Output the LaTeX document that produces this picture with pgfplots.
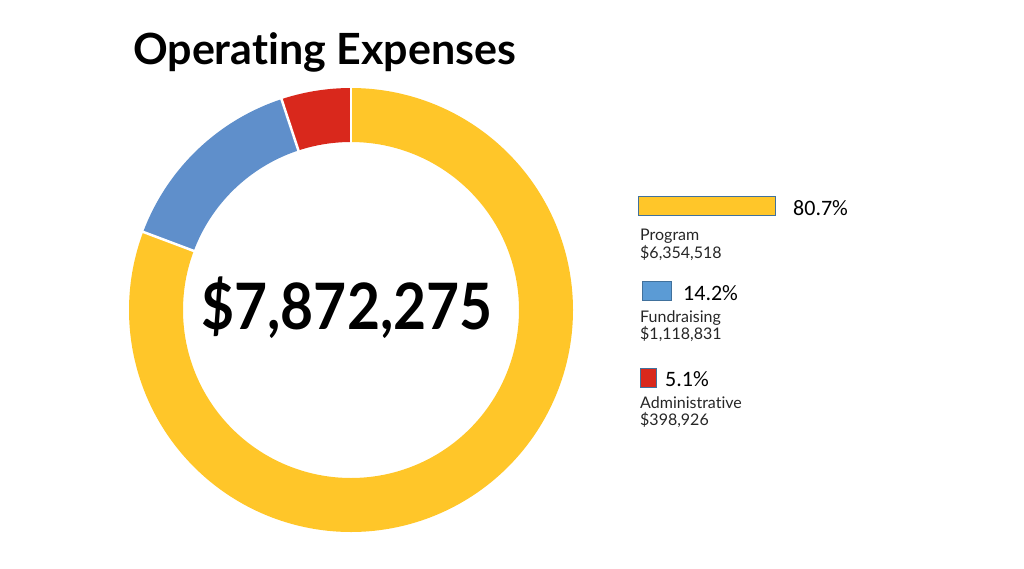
\documentclass[border=0pt]{standalone}
\usepackage{pgfplots}
\pgfplotsset{compat=1.18}
\usepackage{pgfplotstable}
\usepackage{fontspec}
\setmainfont{Lato}[Ligatures=NoCommon]
\newfontfamily\calfont{Carlito}
\definecolor{cyel}{HTML}{FFC629}
\definecolor{cblu}{HTML}{5F8FCB}
\definecolor{cred}{HTML}{D9281C}
\definecolor{lblu}{HTML}{5B9BD5}
\definecolor{edge}{HTML}{41719C}
\definecolor{labtxt}{HTML}{262626}
% operating expenses, thousands of dollars
\pgfplotstableread{
label value
Program 6354.518
Fundraising 1118.831
Administrative 398.926
}\expdata
\pgfplotstablegetelem{0}{value}\of\expdata\let\vA\pgfplotsretval%
\pgfplotstablegetelem{1}{value}\of\expdata\let\vB\pgfplotsretval%
\pgfplotstablegetelem{2}{value}\of\expdata\let\vC\pgfplotsretval%
\pgfmathsetmacro\tot{\vA+\vB+\vC}%
\pgfmathsetmacro\aB{90-360*(\vA/\tot)}%
\pgfmathsetmacro\aC{\aB-360*(\vB/\tot)}%
\pgfmathsetmacro\aD{\aC-360*(\vC/\tot)}%
\begin{document}
\begin{tikzpicture}
\begin{axis}[
  scale only axis, width=1024pt, height=568pt,
  xmin=0, xmax=1024, ymin=0, ymax=568, y dir=reverse,
  hide axis, clip=false]
\addplot[draw=none] coordinates {(0,0) (1024,568)};
% donut ring
\addplot[cyel, line width=54pt, domain=\aB:90, samples=240, variable=\t] ({351+195*cos(t)},{310-195*sin(t)});
\addplot[cblu, line width=54pt, domain=\aC:\aB, samples=60, variable=\t] ({351+195*cos(t)},{310-195*sin(t)});
\addplot[cred, line width=54pt, domain=\aD:\aC, samples=30, variable=\t] ({351+195*cos(t)},{310-195*sin(t)});
% separators
\addplot[white, line width=2.5pt, domain=160:230, samples=2] ({351+x*cos(90)},{310-x*sin(90)});
\addplot[white, line width=2.5pt, domain=160:230, samples=2] ({351+x*cos(\aB)},{310-x*sin(\aB)});
\addplot[white, line width=2.5pt, domain=160:230, samples=2] ({351+x*cos(\aC)},{310-x*sin(\aC)});
% legend bars
\addplot[fill=cyel, draw=edge, line width=1pt] coordinates {(638,196) (775,196) (775,215) (638,215) (638,196)};
\addplot[fill=lblu, draw=edge, line width=1pt] coordinates {(642,281) (671,281) (671,300) (642,300) (642,281)};
\addplot[fill=cred, draw=edge, line width=1pt] coordinates {(640,368) (656,368) (656,387) (640,387) (640,368)};
% texts
\node[anchor=base west, inner sep=0pt, font=\bfseries\fontsize{43}{48}\selectfont] at (axis cs:133,64) {Operating Expenses};
\node[inner sep=0pt, font=\bfseries\fontsize{64}{68}\selectfont] at (axis cs:347,308) {\scalebox{0.89}[1]{\$7,872,275}};
\node[anchor=base west, inner sep=0pt, font=\calfont\fontsize{22}{24}\selectfont] at (axis cs:793,215) {80.7\%};
\node[anchor=base west, inner sep=0pt, font=\calfont\fontsize{22}{24}\selectfont] at (axis cs:683,300) {14.2\%};
\node[anchor=base west, inner sep=0pt, font=\calfont\fontsize{22}{24}\selectfont] at (axis cs:665,386) {5.1\%};
\begin{scope}[every node/.style={anchor=base west, inner sep=0pt, text=labtxt, font=\fontsize{16}{18}\selectfont}]
\node at (axis cs:640,240) {Program};
\node at (axis cs:640,258) {\$6,354,518};
\node at (axis cs:640,322) {Fundraising};
\node at (axis cs:640,339) {\$1,118,831};
\node at (axis cs:640,408) {Administrative};
\node at (axis cs:640,425) {\$398,926};
\end{scope}
\end{axis}
\end{tikzpicture}
\end{document}
